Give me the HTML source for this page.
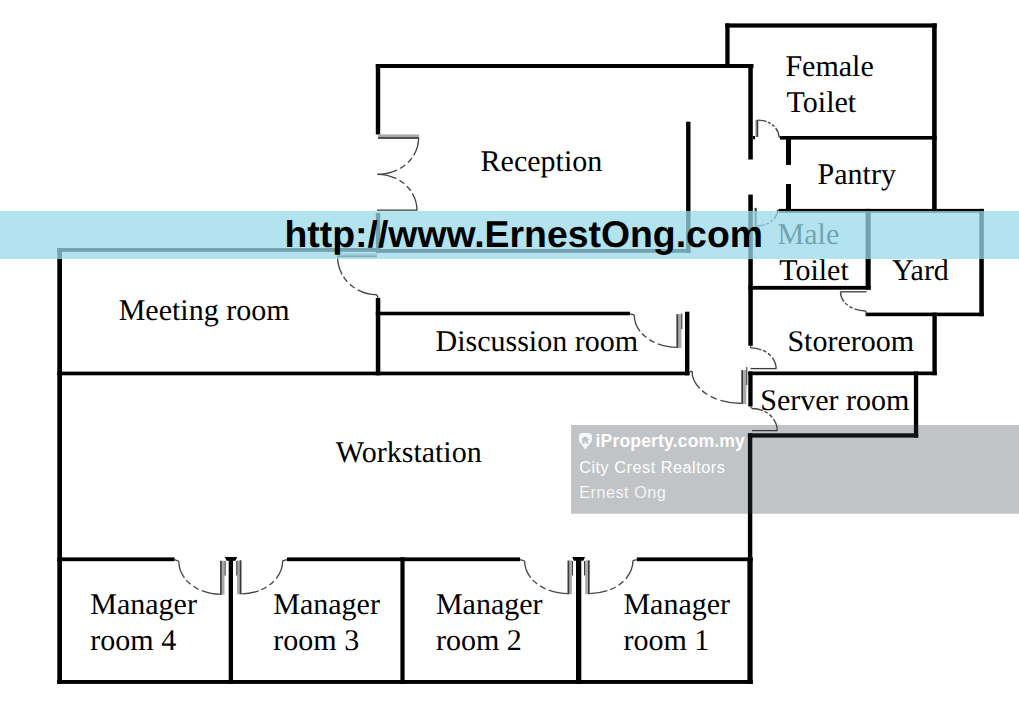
<!DOCTYPE html><html><head><meta charset="utf-8"><title>Floor plan</title><style>html,body{margin:0;padding:0;background:#fff;}body{width:1019px;height:709px;overflow:hidden;position:relative;}svg{position:absolute;left:0;top:0;display:block;}.lb{font-family:"Liberation Serif",serif;font-size:30px;fill:#000;text-rendering:geometricPrecision;}.url{font-family:"Liberation Sans",sans-serif;font-weight:bold;font-size:37.4px;fill:#000;text-rendering:geometricPrecision;}.ip{font-family:"Liberation Sans",sans-serif;fill:#fff;}</style></head><body>
<svg width="1019" height="709" viewBox="0 0 1019 709">
<rect width="1019" height="709" fill="#fff"/>
<g fill="#000">
<rect x="57.3" y="248.2" width="4.7" height="435.8"/>
<rect x="57.3" y="248" width="322.9" height="3.8"/>
<rect x="375.8" y="249" width="314.7" height="3.8"/>
<rect x="375.8" y="64" width="4.4" height="70.5"/>
<rect x="375.8" y="213" width="4.4" height="39.8"/>
<rect x="375.8" y="64" width="377.7" height="4"/>
<rect x="748.3" y="64" width="4.5" height="95.5"/>
<rect x="748.3" y="194.6" width="4.5" height="151.2"/>
<rect x="752.8" y="136" width="2.2" height="3.3"/>
<rect x="686.1" y="121.7" width="4.4" height="131.1"/>
<rect x="725.3" y="23.4" width="4.3" height="44.6"/>
<rect x="725.3" y="23.4" width="211.4" height="4.2"/>
<rect x="932.1" y="23.4" width="4.6" height="189.1"/>
<rect x="780" y="136" width="156.6" height="3.6"/>
<rect x="786" y="136" width="5" height="28.9"/>
<rect x="786" y="184" width="5" height="28.5"/>
<rect x="778.6" y="208.9" width="205.2" height="3.8"/>
<rect x="865.6" y="208.9" width="5.1" height="80.8"/>
<rect x="748.3" y="285.9" width="122.4" height="3.8"/>
<rect x="979.3" y="208.9" width="4.5" height="107.3"/>
<rect x="865.6" y="312.6" width="118.2" height="3.6"/>
<rect x="932.4" y="312.6" width="4.4" height="62.6"/>
<rect x="748.3" y="371.5" width="188.5" height="3.7"/>
<rect x="748.3" y="371.5" width="4.3" height="35"/>
<rect x="913.9" y="371.5" width="4.3" height="66.1"/>
<rect x="747.9" y="433.3" width="170.3" height="4.3"/>
<rect x="747.9" y="433.3" width="4.4" height="124.1"/>
<rect x="747.4" y="557.4" width="5.3" height="126.6"/>
<rect x="57.3" y="371.6" width="632.2" height="3.7"/>
<rect x="375.8" y="298" width="4.5" height="77.3"/>
<rect x="375.8" y="311.7" width="254.1" height="3.6"/>
<rect x="685" y="311.7" width="4.4" height="63.6"/>
<rect x="57.3" y="557.4" width="117.3" height="3.8"/>
<rect x="287" y="557.4" width="233.1" height="3.8"/>
<rect x="636.8" y="557.4" width="115.9" height="3.8"/>
<rect x="228.7" y="557.2" width="4.3" height="126.8"/>
<rect x="400.4" y="557.2" width="4.2" height="126.8"/>
<rect x="576" y="557.2" width="5.3" height="126.8"/>
<rect x="57.3" y="680" width="695.4" height="3.9"/>
<path d="M224.9 557.1L237.1 557.1L235.5 560.8L226.5 560.8Z"/>
<path d="M572.3 557.1L585 557.1L583.4 560.8L573.9 560.8Z"/>
</g>
<g fill="none" stroke="#474747" stroke-width="1.35">
<path d="M418.6 138A40.6 36.3 0 0 1 377.4 174.3" pathLength="100" stroke-dasharray="30 5 10 6 10 6 100"/>
<path d="M417 210.2A39.6 35.9 0 0 0 377.4 174.3" pathLength="100" stroke-dasharray="30 5 10 6 10 6 100"/>
<path d="M337.6 257A39.4 37.7 0 0 0 376.9 294.7" pathLength="100" stroke-dasharray="30 5 10 6 10 6 100"/>
<path d="M757.8 120.1A21.1 16.9 0 0 1 778.9 137" pathLength="100" stroke-dasharray="30 5 10 6 10 6 100"/>
<path d="M756.2 226A21.4 15.9 0 0 0 777.6 210.1" pathLength="100" stroke-dasharray="30 5 10 6 10 6 100"/>
<path d="M840.5 292A25.2 19 0 0 0 865.7 311" pathLength="100" stroke-dasharray="30 5 10 6 10 6 100"/>
<path d="M750.7 347.9A25.4 20.6 0 0 1 776.1 368.5" pathLength="100" stroke-dasharray="30 5 10 6 10 6 100"/>
<path d="M751.9 408.5A25.3 22 0 0 1 777.2 430.5" pathLength="100" stroke-dasharray="30 5 10 6 10 6 100"/>
<path d="M692 371A49.6 32.5 0 0 0 741.6 403.5" pathLength="100" stroke-dasharray="30 5 10 6 10 6 100"/>
<path d="M634.2 314.9A42.7 32.4 0 0 0 676.9 347.3" pathLength="100" stroke-dasharray="30 5 10 6 10 6 100"/>
<path d="M178.8 561.3A42 33 0 0 0 220.8 594.3" pathLength="100" stroke-dasharray="30 5 10 6 10 6 100"/>
<path d="M241.4 593.8A41.3 33 0 0 0 282.7 560.8" pathLength="100" stroke-dasharray="30 5 10 6 10 6 100"/>
<path d="M524.6 561A43.6 32.6 0 0 0 568.2 593.6" pathLength="100" stroke-dasharray="30 5 10 6 10 6 100"/>
<path d="M589.6 593.6A43.4 33 0 0 0 633 560.6" pathLength="100" stroke-dasharray="30 5 10 6 10 6 100"/>
</g>
<rect x="378.1" y="134.4" width="41" height="4.4" fill="#a9a9a9"/>
<rect x="378.1" y="137.2" width="41" height="1.6" fill="#3c3c3c"/>
<path d="M377 210.2L417.3 210.2" stroke="#3a3a3a" stroke-width="1.3" fill="none"/>
<rect x="337" y="253.5" width="40" height="3.7" fill="#a9a9a9"/>
<rect x="337" y="255.6" width="40" height="1.6" fill="#3c3c3c"/>
<rect x="755.3" y="119.9" width="2.9" height="17.1" fill="#a9a9a9"/>
<rect x="756.6" y="119.9" width="1.6" height="17.1" fill="#3c3c3c"/>
<rect x="753.9" y="207.9" width="2.7" height="18.3" fill="#a9a9a9"/>
<rect x="755" y="207.9" width="1.6" height="18.3" fill="#3c3c3c"/>
<path d="M840.4 291.8L866.6 291.8" stroke="#3a3a3a" stroke-width="1.3" fill="none"/>
<path d="M750.7 368.6L776.5 368.6" stroke="#3a3a3a" stroke-width="1.3" fill="none"/>
<path d="M752 430.6L777.5 430.6" stroke="#3a3a3a" stroke-width="1.3" fill="none"/>
<rect x="741.4" y="370.2" width="4.9" height="33.8" fill="#a9a9a9"/>
<rect x="741.4" y="370.2" width="1.6" height="33.8" fill="#3c3c3c"/>
<rect x="676.5" y="314.2" width="4.9" height="33.8" fill="#a9a9a9"/>
<rect x="676.5" y="314.2" width="1.6" height="33.8" fill="#3c3c3c"/>
<rect x="220.1" y="560.8" width="4.4" height="33.9" fill="#a9a9a9"/>
<rect x="220.1" y="560.8" width="1.6" height="33.9" fill="#3c3c3c"/>
<rect x="237" y="560.4" width="4.4" height="33.8" fill="#a9a9a9"/>
<rect x="239.8" y="560.4" width="1.6" height="33.8" fill="#3c3c3c"/>
<rect x="567.6" y="560.6" width="4.2" height="33.6" fill="#a9a9a9"/>
<rect x="567.6" y="560.6" width="1.6" height="33.6" fill="#3c3c3c"/>
<rect x="585.2" y="560.4" width="4.4" height="33.8" fill="#a9a9a9"/>
<rect x="588" y="560.4" width="1.6" height="33.8" fill="#3c3c3c"/>
<path d="M174.6 559.6L178.8 561.3" stroke="#3a3a3a" stroke-width="1.2" fill="none"/>
<path d="M282.7 560.8L287 559.6" stroke="#3a3a3a" stroke-width="1.2" fill="none"/>
<path d="M520.1 559.6L524.6 561" stroke="#3a3a3a" stroke-width="1.2" fill="none"/>
<path d="M633 560.6L636.8 559.6" stroke="#3a3a3a" stroke-width="1.2" fill="none"/>
<path d="M629.9 313.8L634.2 314.9" stroke="#3a3a3a" stroke-width="1.2" fill="none"/>
<path d="M689 372.5L692 371" stroke="#3a3a3a" stroke-width="1.2" fill="none"/>
<path d="M376.9 294.7L378 298" stroke="#3a3a3a" stroke-width="1.2" fill="none"/>
<path d="M750.5 345.8L750.7 347.9" stroke="#3a3a3a" stroke-width="1.2" fill="none"/>
<path d="M750.5 406.5L751.9 408.5" stroke="#3a3a3a" stroke-width="1.2" fill="none"/>
<path d="M865.7 311L865.9 312.8" stroke="#3a3a3a" stroke-width="1.2" fill="none"/>
<path d="M778.9 137L780.2 137.6" stroke="#3a3a3a" stroke-width="1.2" fill="none"/>
<path d="M777.6 210.1L778.8 210.6" stroke="#3a3a3a" stroke-width="1.2" fill="none"/>
<path d="M225.1 561L225.1 575.5" stroke="#2a2a2a" stroke-width="1" fill="none"/>
<path d="M236.8 561L236.8 575.5" stroke="#2a2a2a" stroke-width="1" fill="none"/>
<path d="M572.4 561L572.4 575.5" stroke="#2a2a2a" stroke-width="1" fill="none"/>
<path d="M584.6 561L584.6 575.5" stroke="#2a2a2a" stroke-width="1" fill="none"/>
<path d="M681.8 313.5L681.8 329" stroke="#2a2a2a" stroke-width="1" fill="none"/>
<path d="M746.8 367L746.8 385" stroke="#2a2a2a" stroke-width="1" fill="none"/>
<text class="lb" transform="translate(480.6 170.9) scale(1 1)">Reception</text>
<text class="lb" transform="translate(785.4 75.8) scale(1 1)">Female</text>
<text class="lb" transform="translate(786.6 111.7) scale(1 1)">Toilet</text>
<text class="lb" transform="translate(817.6 183.9) scale(1 1)">Pantry</text>
<text class="lb" transform="translate(777.55 244.1) scale(1 1)">Male</text>
<text class="lb" transform="translate(779.2 280.3) scale(1 1)">Toilet</text>
<text class="lb" transform="translate(891.9 280.2) scale(1 1)">Yard</text>
<text class="lb" transform="translate(118.7 320.1) scale(1 1)">Meeting room</text>
<text class="lb" transform="translate(435.5 350.9) scale(1 1)">Discussion room</text>
<text class="lb" transform="translate(787.4 350.9) scale(1 1)">Storeroom</text>
<text class="lb" transform="translate(760.3 409.9) scale(1 1)">Server room</text>
<text class="lb" transform="translate(335.8 461.7) scale(1 1)">Workstation</text>
<text class="lb" transform="translate(90.3 613.9) scale(1 1)">Manager</text>
<text class="lb" transform="translate(90.3 649.8) scale(1 1)">room 4</text>
<text class="lb" transform="translate(273.3 613.9) scale(1 1)">Manager</text>
<text class="lb" transform="translate(273.3 649.8) scale(1 1)">room 3</text>
<text class="lb" transform="translate(435.9 613.9) scale(1 1)">Manager</text>
<text class="lb" transform="translate(435.9 649.8) scale(1 1)">room 2</text>
<text class="lb" transform="translate(623.4 613.9) scale(1 1)">Manager</text>
<text class="lb" transform="translate(623.4 649.8) scale(1 1)">room 1</text>
<rect x="0" y="211" width="1019" height="48" fill="rgb(152,217,232)" fill-opacity="0.75"/>
<text class="url" x="284.5" y="246.6">http://www.ErnestOng.com</text>
<rect x="571.1" y="425" width="448" height="88.8" fill="rgb(50,60,70)" fill-opacity="0.3"/>
<path d="M585.3 449.4L579.9 442.6Q578.9 441.2 578.9 439.2L578.9 436.6Q578.9 433.1 582.4 433.1L588.4 433.1Q591.9 433.1 591.9 436.6L591.9 439.2Q591.9 441.2 590.8 442.6Z" fill="#f7f7f7"/>
<path d="M585.2 435.9L589.6 439.8L587.9 439.8L587.9 443.7L582.3 443.7L582.3 439.8L581.1 439.8Z" fill="#c1c4c7"/>
<rect x="584.6" y="441.4" width="1.3" height="2.3" fill="#f7f7f7"/>
<text class="ip" x="595.6" y="446.6" font-size="17.6" font-weight="bold" letter-spacing="0.13">iProperty.com.my</text>
<text class="ip" x="579.2" y="472.9" font-size="16.3" letter-spacing="0.5">City Crest Realtors</text>
<text class="ip" x="579.2" y="497.8" font-size="16.3" letter-spacing="0.48" fill-opacity="0.85">Ernest Ong</text>
</svg></body></html>
